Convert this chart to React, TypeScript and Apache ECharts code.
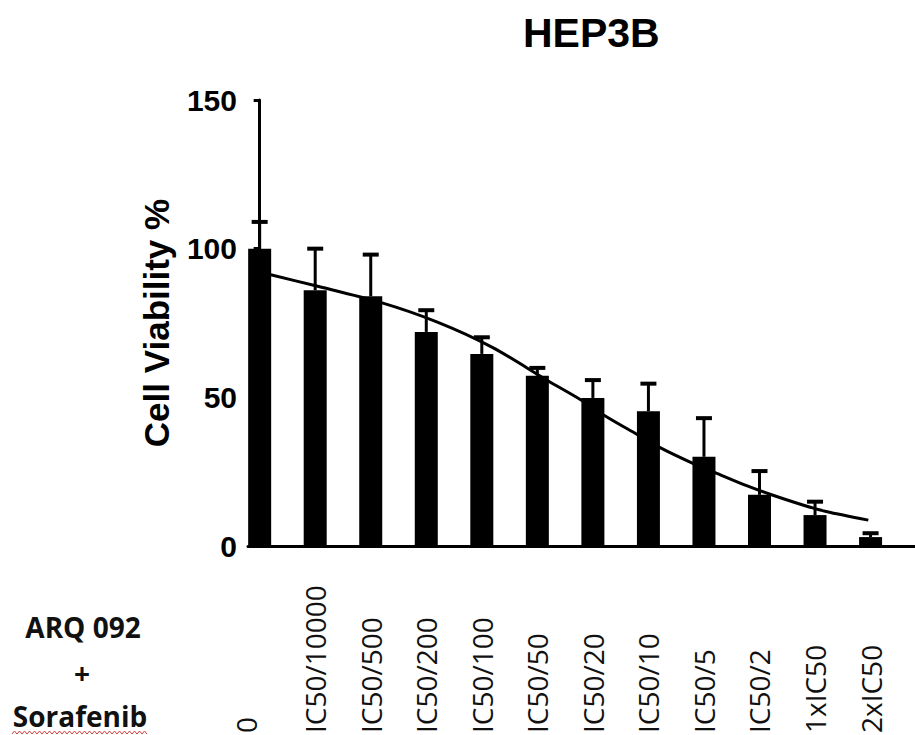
import React, { useEffect, useRef } from "react";
import * as echarts from "echarts";

const categories = ["0", "IC50/10000", "IC50/500", "IC50/200", "IC50/100", "IC50/50", "IC50/20", "IC50/10", "IC50/5", "IC50/2", "1xIC50", "2xIC50"];
const viability = [100, 86, 84, 72, 64.6, 57.3, 49.8, 45.3, 30, 17.2, 10.4, 3];
const errorUp = [9, 14, 14, 7.3, 5.6, 2.6, 6, 9.3, 13, 8, 4.5, 1.3];
const fitCurve = [
  [0.2, 91.2], [0.99, 87.6], [2.16, 82], [3.2, 75.3], [4.19, 66.8], [5.19, 55.6],
  [5.78, 49.2], [6.2, 44], [6.79, 37.6], [7.21, 33.1], [7.79, 27.9], [8.2, 24.7],
  [8.78, 20.2], [9.19, 17.4], [9.78, 13.8], [10.2, 11.6], [10.96, 8.7],
];
const yTicks = [0, 50, 100, 150];

export default function App() {
  const ref = useRef<HTMLDivElement>(null);
  useEffect(() => {
    if (!ref.current) return;
    const chart = echarts.init(ref.current, null, { renderer: "svg" });
    const arial = "'Liberation Sans', Arial, sans-serif";
    const wave: number[][] = [];
    for (let x = 12, k = 0; x <= 148; x += 2.5, k++) wave.push([x, k % 2 ? 731 : 734]);
    chart.setOption({
      animation: false,
      backgroundColor: "#fff",
      title: {
        text: "HEP3B",
        left: 523,
        top: 12,
        padding: 0,
        textStyle: { fontFamily: arial, fontWeight: "bold", fontSize: 41, color: "#000" },
      },
      grid: { left: 248, right: 0, top: 100, bottom: 189, containLabel: false, outerBoundsMode: "none" },
      xAxis: {
        type: "value",
        min: -0.21,
        max: 11.8,
        splitLine: { show: false },
        axisTick: { show: false },
        axisLine: { show: true, onZero: false, lineStyle: { color: "#000", width: 3 } },
        axisLabel: {
          customValues: categories.map((_, i) => i),
          rotate: 90,
          align: "left",
          verticalAlign: "middle",
          margin: 187,
          fontFamily: "'Open Sans', sans-serif",
          fontSize: 28,
          color: "#111",
          formatter: (v: number) => (v === 0 ? "{z|" + categories[0] + "}" : categories[Math.round(v)]),
          rich: {
            z: { fontFamily: "'Open Sans', sans-serif", fontSize: 28, color: "#111", padding: [0, 0, 28, 0] },
          },
        },
      },
      yAxis: {
        type: "value",
        min: yTicks[0],
        max: yTicks[yTicks.length - 1],
        interval: 50,
        name: "Cell Viability %",
        nameLocation: "middle",
        nameGap: 74,
        nameTextStyle: { fontFamily: arial, fontWeight: "bold", fontSize: 35, color: "#000" },
        splitLine: { show: false },
        axisLine: { show: true, lineStyle: { color: "#000", width: 3 } },
        axisTick: { show: true, length: 6, lineStyle: { color: "#000", width: 3 } },
        axisLabel: { fontFamily: arial, fontWeight: "bold", fontSize: 30, color: "#000", margin: 11 },
      },
      graphic: [
        { type: "text", x: 83, y: 627, style: { text: "ARQ 092", fontFamily: "'Open Sans', sans-serif", fontWeight: "bold", fontSize: 28, fill: "#111", align: "center", verticalAlign: "middle" } },
        { type: "text", x: 82, y: 673, style: { text: "+", fontFamily: "'Open Sans', sans-serif", fontWeight: "bold", fontSize: 28, fill: "#111", align: "center", verticalAlign: "middle" } },
        { type: "text", x: 80, y: 716, style: { text: "Sorafenib", fontFamily: "'Open Sans', sans-serif", fontWeight: "bold", fontSize: 28, fill: "#111", align: "center", verticalAlign: "middle" } },
        { type: "polyline", shape: { points: wave }, style: { stroke: "#d04040", lineWidth: 1, fill: null } },
      ],
      series: [
        {
          type: "bar",
          data: viability.map((v, i) => [i, v]),
          barWidth: 23,
          itemStyle: { color: "#000" },
          z: 2,
        },
        {
          type: "custom",
          data: viability.map((v, i) => [i, v, errorUp[i]]),
          encode: { x: 0, y: 1 },
          z: 3,
          renderItem: (params: any, api: any) => {
            const x = api.value(0);
            const m = api.value(1);
            const e = api.value(2);
            const b = api.coord([x, m]);
            const t = api.coord([x, m + e]);
            return {
              type: "group",
              children: [
                { type: "line", shape: { x1: b[0], y1: b[1], x2: t[0], y2: t[1] }, style: { stroke: "#000", lineWidth: 3 } },
                { type: "line", shape: { x1: t[0] - 8, y1: t[1], x2: t[0] + 8, y2: t[1] }, style: { stroke: "#000", lineWidth: 4 } },
              ],
            };
          },
        },
        {
          type: "line",
          data: fitCurve,
          smooth: 0.3,
          symbol: "none",
          lineStyle: { color: "#000", width: 3 },
          z: 4,
        },
      ],
    });
    return () => chart.dispose();
  }, []);
  return <div ref={ref} style={{ position: "absolute", left: 0, top: 0, width: 915, height: 735 }} />;
}
